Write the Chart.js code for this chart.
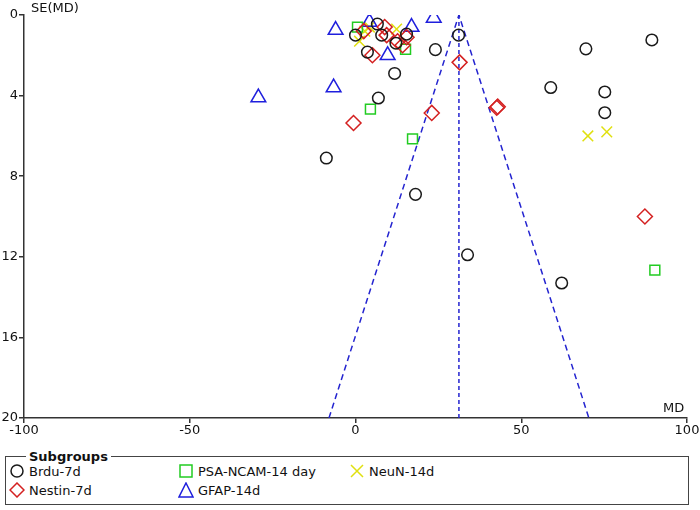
<!DOCTYPE html>
<html>
<head>
<meta charset="utf-8">
<script src="https://cdn.jsdelivr.net/npm/chart.js@4.4.0/dist/chart.umd.min.js"></script>
<style>
	html, body { margin: 0; padding: 0; background: #fff; }
	#wrap { position: relative; width: 700px; height: 510px; font-family: 'DejaVu Sans', sans-serif; color: #111; }
	#funnel { position: absolute; left: 0; top: 0; }
	.axtitle { position: absolute; font-size: 13px; }
	fieldset {
		position: absolute; left: 5px; top: 449px; width: 684px; height: 56px;
		margin: 0; padding: 0; border: 1.5px solid #444; box-sizing: border-box;
	}
	legend { font-weight: bold; font-size: 13px; margin-left: 20px; padding: 0 3px; }
	.item { position: absolute; font-size: 13px; display: flex; align-items: center; white-space: nowrap; }
	.item svg { margin-right: 4px; }
</style>
</head>
<body>
<div id="wrap">
	<canvas id="funnel" width="700" height="445"></canvas>
	<div class="axtitle" style="left:31px; top:0px;">SE(MD)</div>
	<div class="axtitle" style="left:663px; top:400px;">MD</div>
	<fieldset>
		<legend>Subgroups</legend>
		<div class="item" style="left:3px; top:-1px;"><svg width="16" height="16"><circle cx="8" cy="8" r="6" fill="none" stroke="#1a1a1a" stroke-width="1.5"/></svg>Brdu-7d</div>
		<div class="item" style="left:3px; top:18px;"><svg width="16" height="16"><polygon points="8,1 15,8 8,15 1,8" fill="none" stroke="#d42020" stroke-width="1.5"/></svg>Nestin-7d</div>
		<div class="item" style="left:172px; top:-1px;"><svg width="16" height="16"><rect x="2" y="2" width="12" height="12" fill="none" stroke="#22cc22" stroke-width="1.5"/></svg>PSA-NCAM-14 day</div>
		<div class="item" style="left:172px; top:18px;"><svg width="16" height="16"><polygon points="8,1 15,15 1,15" fill="none" stroke="#1f1fdd" stroke-width="1.5"/></svg>GFAP-14d</div>
		<div class="item" style="left:343px; top:-1px;"><svg width="16" height="16"><path d="M2,2 L14,14 M14,2 L2,14" stroke="#e0e010" stroke-width="1.5"/></svg>NeuN-14d</div>
	</fieldset>
</div>
<script>
// 값은 그림에서 읽은 추정치 (MD, SE)
var brduMD = [6.6, 0.0, 7.9, 3.6, 12.2, 15.4, 11.8, 24.1, 31.1, 6.9, -8.8, 18.1, 33.8, 62.2, 69.5, 89.4, 58.9, 75.2, 75.2];
var brduSE = [0.45, 1.0, 1.0, 1.84, 1.4, 0.95, 2.9, 1.72, 1.0, 4.12, 7.1, 8.9, 11.9, 13.3, 1.68, 1.24, 3.6, 3.82, 4.85];

var nestinMD = [2.5, 8.8, 9.4, 5.1, 12.7, 14.2, 15.4, 31.4, -0.6, 23.0, 42.6, 42.9, 87.3];
var nestinSE = [0.8, 0.6, 1.0, 2.0, 1.3, 1.5, 1.1, 2.35, 5.36, 4.86, 4.6, 4.55, 10.0];

var psaMD = [0.6, 15.1, 4.5, 17.2, 90.3];
var psaSE = [0.6, 1.7, 4.67, 6.15, 12.66];

var gfapMD = [4.2, -6.0, 16.9, 23.6, 9.7, -6.6, -29.3];
var gfapSE = [0.35, 0.75, 0.6, 0.15, 2.0, 3.6, 4.1];

var neunMD = [1.2, 4.2, 12.4, 2.8, 70.1, 75.8];
var neunSE = [1.3, 0.6, 0.7, 0.8, 6.0, 5.8];

// 깔때기 (95% 한계선) 및 전체 효과선
var funnelX = [-8.0, 31.2, 70.4];
var funnelY = [20, 0, 20];
var pooledX = [31.2, 31.2];
var pooledY = [0, 20];

var xTicks = [-100, -50, 0, 50, 100];
var yTicks = [0, 4, 8, 12, 16, 20];

function pts(xs, ys) {
	return xs.map(function(x, i) { return { x: x, y: ys[i] }; });
}

function pointSet(label, xs, ys, style, color, r) {
	return {
		label: label,
		data: pts(xs, ys),
		pointStyle: style,
		pointRadius: r,
		pointBorderColor: color,
		pointBackgroundColor: 'transparent',
		pointBorderWidth: 1.5,
		showLine: false,
		order: 1
	};
}

var axisFont = { family: "'DejaVu Sans', sans-serif", size: 13 };

var ctx = document.getElementById('funnel').getContext('2d');
var myChart = new Chart(ctx, {
	type: 'scatter',
	data: {
		datasets: [
			pointSet('Brdu-7d', brduMD, brduSE, 'circle', '#1a1a1a', 5.8),
			pointSet('Nestin-7d', nestinMD, nestinSE, 'rectRot', '#d42020', 7.5),
			pointSet('PSA-NCAM-14 day', psaMD, psaSE, 'rect', '#22cc22', 7),
			pointSet('GFAP-14d', gfapMD, gfapSE, 'triangle', '#1f1fdd', 8.5),
			pointSet('NeuN-14d', neunMD, neunSE, 'crossRot', '#e0e010', 7.5),
			{
				label: 'funnel',
				data: pts(funnelX, funnelY),
				showLine: true,
				borderColor: '#2424d0',
				borderWidth: 1.5,
				borderDash: [6, 4],
				pointRadius: 0,
				fill: false,
				order: 10
			},
			{
				label: 'pooled',
				data: pts(pooledX, pooledY),
				showLine: true,
				borderColor: '#2424d0',
				borderWidth: 1.5,
				borderDash: [4, 3],
				pointRadius: 0,
				fill: false,
				order: 10
			}
		]
	},
	options: {
		animation: false,
		responsive: false,
		layout: { padding: { top: 15, right: 13, left: 0, bottom: 0 } },
		plugins: {
			legend: { display: false },
			tooltip: { enabled: false }
		},
		scales: {
			x: {
				type: 'linear',
				min: -100,
				max: 100,
				afterBuildTicks: function(axis) {
					axis.ticks = xTicks.map(function(v) { return { value: v }; });
				},
				afterFit: function(axis) { axis.height = 27; },
				border: { display: true, color: '#333', width: 1.5 },
				grid: { drawOnChartArea: false, drawTicks: true, tickLength: 5, color: '#333', lineWidth: 1.5 },
				ticks: { color: '#111', font: axisFont, padding: 0, maxRotation: 0, autoSkip: false }
			},
			y: {
				type: 'linear',
				reverse: true,
				min: 0,
				max: 20,
				afterBuildTicks: function(axis) {
					axis.ticks = yTicks.map(function(v) { return { value: v }; });
				},
				afterFit: function(axis) { axis.width = 24; },
				border: { display: true, color: '#333', width: 1.5 },
				grid: { drawOnChartArea: false, drawTicks: true, tickLength: 5, color: '#333', lineWidth: 1.5 },
				ticks: { color: '#111', font: axisFont, padding: 1, autoSkip: false }
			}
		}
	}
});
</script>
</body>
</html>
